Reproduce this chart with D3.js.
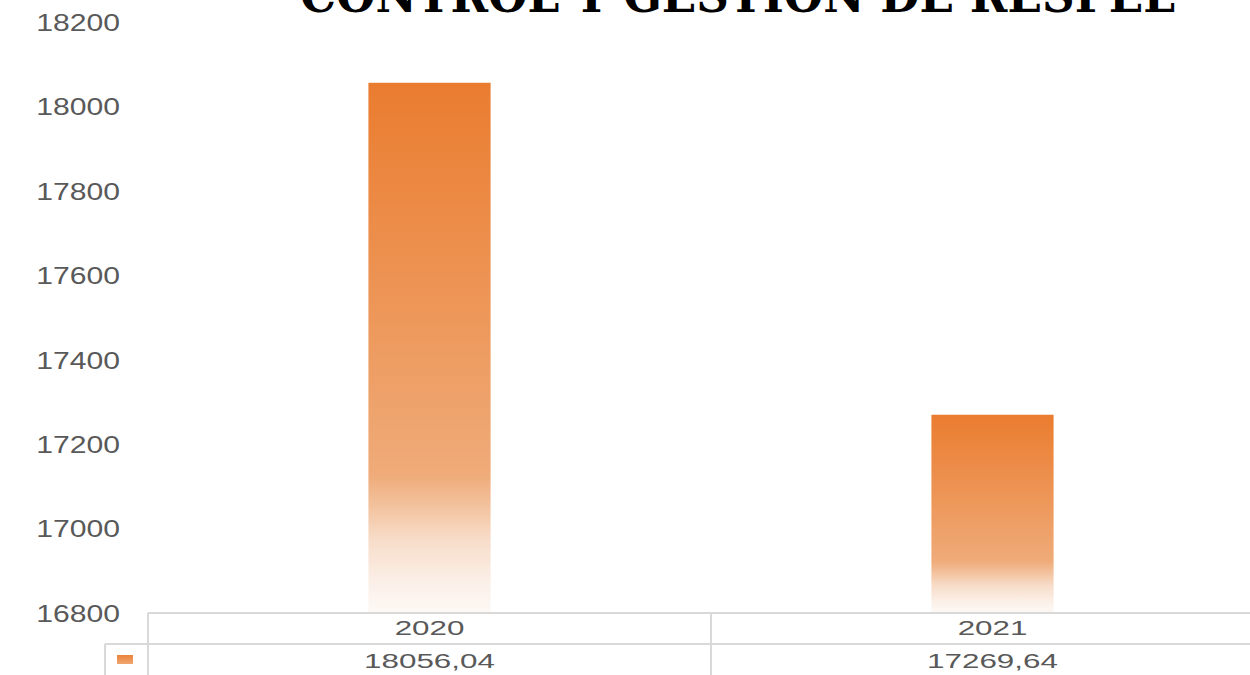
<!DOCTYPE html>
<html>
<head>
<meta charset="utf-8">
<script src="https://cdn.jsdelivr.net/npm/d3@7"></script>
<style>
  html, body { margin: 0; padding: 0; background: #ffffff; }
  svg { display: block; }
</style>
</head>
<body>
<svg id="chart" width="1250" height="675"></svg>
<script>
// Chart data
const title = "CONTROL Y GESTION DE RESPEL";
const categories = ["2020", "2021"];
const values = [18056.04, 17269.64];
const valueLabels = ["18056,04", "17269,64"];
const yTicks = [16800, 17000, 17200, 17400, 17600, 17800, 18000, 18200];

const svg = d3.select("#chart");

// Layout
const plot = { left: 148, right: 1274, top: 22, bottom: 613 };
const row1Bottom = 644;
const gridColor = "#d9d9d9";
const textColor = "#595959";

const x = d3.scaleBand().domain(categories).range([plot.left, plot.right]).padding(0);
const y = d3.scaleLinear().domain([16800, 18200]).range([plot.bottom, plot.top]);
const barWidth = x.bandwidth() * 0.217;

// Bar gradient: deep orange at top fading to almost white at the base
const defs = svg.append("defs");
const grad = defs.append("linearGradient")
  .attr("id", "barGrad")
  .attr("x1", 0).attr("y1", 0).attr("x2", 0).attr("y2", 1);
[
  [0, "#ea7c2f"],
  [0.40, "#ed9556"],
  [0.74, "#efab79"],
  [0.80, "#f3c39f"],
  [0.86, "#f7dcc8"],
  [0.94, "#fbefe7"],
  [1, "#fdf9f6"]
].forEach(([o, c]) => grad.append("stop").attr("offset", o).attr("stop-color", c));

// Title (partly above the visible area)
svg.append("text")
  .attr("x", 300).attr("y", 12)
  .attr("textLength", 875)
  .attr("lengthAdjust", "spacingAndGlyphs")
  .style("font-family", "'DejaVu Serif', serif")
  .style("font-weight", "bold")
  .style("font-size", "48px")
  .style("fill", "#000")
  .text(title);

// Y axis labels (no axis line)
const yAxis = d3.axisLeft(y).tickValues(yTicks).tickSize(0).tickPadding(0).tickFormat(d3.format("d"));
const yg = svg.append("g").attr("transform", "translate(120,0)").call(yAxis);
yg.select(".domain").remove();
yg.selectAll(".tick text")
  .attr("x", 0)
  .attr("dy", "0.36em")
  .attr("transform", "scale(1.31,1)")
  .attr("text-anchor", "end")
  .style("font-family", "'Liberation Sans', Arial, sans-serif")
  .style("font-size", "23px")
  .style("fill", textColor);

// Bars
svg.append("g").selectAll("rect")
  .data(categories)
  .join("rect")
  .attr("x", (d) => x(d) + (x.bandwidth() - barWidth) / 2)
  .attr("y", (d, i) => y(values[i]))
  .attr("width", barWidth)
  .attr("height", (d, i) => y(16800) - y(values[i]))
  .attr("fill", "url(#barGrad)");

// Data table grid
const table = svg.append("g")
  .attr("stroke", gridColor)
  .attr("stroke-width", 2)
  .attr("fill", "none");
table.append("line").attr("x1", plot.left).attr("x2", 1250).attr("y1", plot.bottom).attr("y2", plot.bottom);
table.append("line").attr("x1", 105).attr("x2", 1250).attr("y1", row1Bottom).attr("y2", row1Bottom);
table.append("line").attr("x1", 105).attr("x2", 105).attr("y1", row1Bottom).attr("y2", 675);
table.selectAll("line.col")
  .data(categories)
  .join("line")
  .attr("class", "col")
  .attr("x1", (d) => x(d)).attr("x2", (d) => x(d))
  .attr("y1", plot.bottom).attr("y2", 675);

// Legend key in the value row
const keyGrad = defs.append("linearGradient")
  .attr("id", "keyGrad").attr("x1", 0).attr("y1", 0).attr("x2", 0).attr("y2", 1);
keyGrad.append("stop").attr("offset", 0).attr("stop-color", "#eb8239");
keyGrad.append("stop").attr("offset", 1).attr("stop-color", "#f0a670");
svg.append("rect")
  .attr("x", 117).attr("y", 655).attr("width", 16).attr("height", 9)
  .attr("fill", "url(#keyGrad)");

// Table text
const tableText = (sel) => sel
  .attr("text-anchor", "middle")
  .style("font-family", "'Liberation Sans', Arial, sans-serif")
  .style("font-size", "20.5px")
  .style("fill", textColor);

svg.append("g").selectAll("text")
  .data(categories)
  .join("text")
  .attr("transform", (d) => `translate(${x(d) + x.bandwidth() / 2},635) scale(1.53,1)`)
  .call(tableText)
  .text((d) => d);

svg.append("g").selectAll("text")
  .data(categories)
  .join("text")
  .attr("transform", (d) => `translate(${x(d) + x.bandwidth() / 2},668) scale(1.53,1)`)
  .call(tableText)
  .text((d, i) => valueLabels[i]);
</script>
</body>
</html>
